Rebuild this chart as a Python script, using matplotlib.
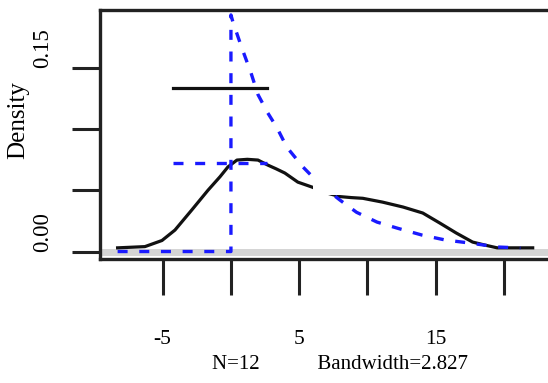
import matplotlib.pyplot as plt
from matplotlib.patches import Rectangle

plt.rcParams['font.family'] = ['Liberation Serif', 'DejaVu Serif']

# kernel density estimate (black)
kde_x = [-8.3, -6.3, -5.05, -4.1, -2.86, -1.68, -0.8, -0.22, 0.44, 1.2, 1.98,
         2.7, 3.3, 3.95, 4.9, 5.93, 7.0, 7.98, 8.8, 9.66, 11.1, 12.6, 14.05,
         15.3, 16.5, 17.7, 18.7, 19.5, 22.1]
kde_y = [0.003, 0.004, 0.009, 0.0175, 0.034, 0.050, 0.061, 0.069, 0.0746,
         0.0752, 0.0746, 0.0705, 0.0675, 0.064, 0.0566, 0.0526, 0.0478,
         0.0448, 0.0440, 0.0434, 0.0403, 0.0363, 0.0314, 0.0232, 0.0151,
         0.0077, 0.0050, 0.003, 0.003]

# reference density (blue dashed)
ref_x = [-8.3, 0.0, 0.0, 0.15, 0.8, 1.46, 1.98, 2.7, 3.37, 4.1, 5.27, 6.5,
         7.98, 9.2, 10.7, 12.2, 14.0, 15.7, 17.5, 19.5, 21.2]
ref_y = [0.0, 0.0, 0.193, 0.187, 0.166, 0.146, 0.128, 0.113, 0.101, 0.085,
         0.069, 0.055, 0.042, 0.032, 0.024, 0.019, 0.0134, 0.0094, 0.0069,
         0.0037, 0.0029]

xticks = [-5, 0, 5, 10, 15, 20]
xtick_labels = ['-5', '', '5', '', '15', '']
yticks = [0.0, 0.05, 0.10, 0.15]
ytick_labels = ['0.00', '', '', '0.15']
n_obs = 12
bandwidth = 2.827

W, H = 548, 383
fig = plt.figure(figsize=(W / 100, H / 100), dpi=100)
# box runs off the right edge of the figure
ax = fig.add_axes([100 / W, (H - 259) / H, 460 / W, 249 / H])

ax.axhline(0, color='#d4d4d4', lw=5, zorder=1)
l1, = ax.plot(kde_x, kde_y, color='#111111', lw=2.3, zorder=3)
l2, = ax.plot(ref_x, ref_y, color='#1a1aff', lw=2.4, dashes=(3, 3.5), zorder=4)

ax.set_xlim(-9.59, 24.1)
ax.set_ylim(-0.0061, 0.197)

ax.set_xticks(xticks)
ax.set_xticklabels(xtick_labels)
ax.set_yticks(yticks)
ax.set_yticklabels(ytick_labels, rotation=90, va='bottom')

ax.tick_params(axis='x', length=26, width=2.2, color='#222222', pad=25,
               labelsize=15.5)
ax.tick_params(axis='y', length=20, width=2.2, color='#222222', pad=14,
               labelsize=16.5)
for s in ax.spines.values():
    s.set_linewidth(2.4)
    s.set_color('#222222')

ax.set_ylabel('Density', fontsize=18)
ax.yaxis.set_label_coords(-0.153, 0.558)
ax.set_xlabel(f'N={n_obs}           Bandwidth={bandwidth}', fontsize=15)
ax.xaxis.set_label_coords(0.522, -0.385)

leg = ax.legend([l1, l2], ['', ''], loc='upper left',
                bbox_to_anchor=(173 / W, 1 - 81 / H),
                bbox_transform=fig.transFigure, frameon=False, fontsize=15,
                handlelength=4.5, labelspacing=2.65, borderpad=0,
                borderaxespad=0, handletextpad=0)

# blank panel over the upper right part of the plot
fig.patches.append(Rectangle((313 / W, 1 - 195 / H), 227 / W, 140 / H,
                             transform=fig.transFigure, facecolor='white',
                             edgecolor='none', zorder=10))

fig.savefig('out.png', dpi=100)
